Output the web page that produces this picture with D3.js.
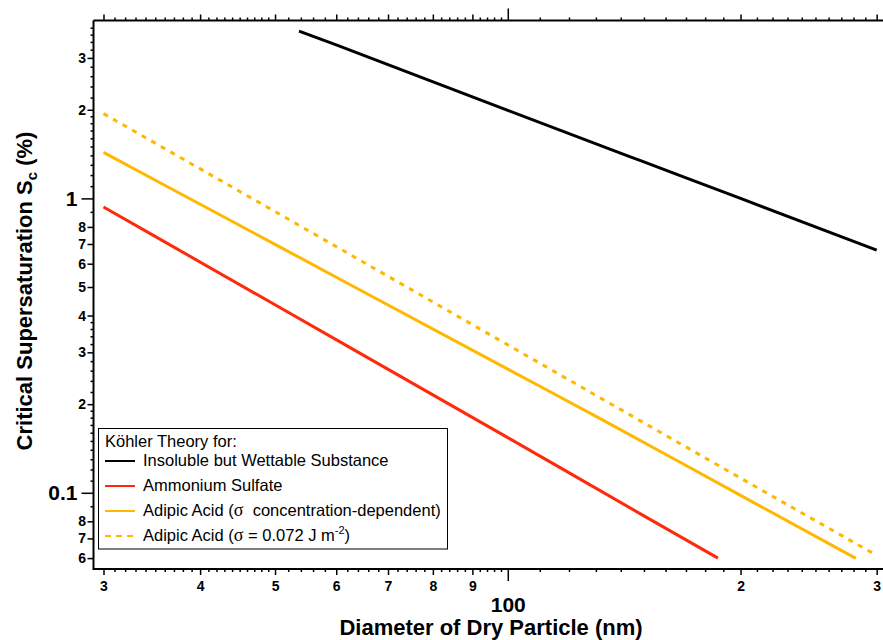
<!DOCTYPE html>
<html>
<head>
<meta charset="utf-8">
<script src="https://cdn.jsdelivr.net/npm/d3@7"></script>
<style>
  html, body { margin: 0; padding: 0; background: #fff; }
  svg { display: block; font-family: "Liberation Sans", Arial, sans-serif; }
</style>
</head>
<body>
<svg id="chart" width="883" height="640"></svg>
<script>
// ---------- data ----------
const diamInsoluble = [53.7, 60, 100, 150, 200, 300];
const scInsoluble   = [3.70, 3.32, 1.99, 1.33, 1.00, 0.667];

const diamAmmSulf = [30, 50, 100, 150, 187];
const scAmmSulf   = [0.935, 0.435, 0.154, 0.0835, 0.060];

const diamAdipicConc = [30, 50, 100, 131.5, 200, 282];
const scAdipicConc   = [1.433, 0.698, 0.263, 0.179, 0.098, 0.0599];

const diamAdipicConst = [30, 50, 100, 200, 300];
const scAdipicConst   = [1.94, 0.902, 0.318, 0.1122, 0.0613];

const seriesNames = [
  "Insoluble but Wettable Substance",
  "Ammonium Sulfate",
  "Adipic Acid (\u03c3  concentration-dependent)",
  "Adipic Acid (\u03c3 = 0.072 J m-2)"
];
const seriesColors = ["#000000", "#ff2a0c", "#ffb800", "#ffb800"];

// axis ticks
const xLabeledTicks = [30, 40, 50, 60, 70, 80, 90, 200, 300];
const xLabeledText  = ["3", "4", "5", "6", "7", "8", "9", "2", "3"];
const xMajorTicks   = [100];
const xMajorText    = ["100"];
const xMinorTicks   = [31,32,33,34,35,36,37,38,39,41,42,43,44,45,46,47,48,49,
                       52,54,56,58,62,64,66,68,72,74,76,78,82,84,86,88,92,94,96,98,
                       110,120,130,140,150,160,170,180,190,210,220,230,240,250,260,270,280,290];

const yLabeledTicks = [3, 2, 0.8, 0.7, 0.6, 0.5, 0.4, 0.3, 0.2, 0.08, 0.07, 0.06];
const yLabeledText  = ["3", "2", "8", "7", "6", "5", "4", "3", "2", "8", "7", "6"];
const yMajorTicks   = [1, 0.1];
const yMajorText    = ["1", "0.1"];
const yMinorTicks   = [3.2, 3.4, 3.6, 3.8, 2.2, 2.4, 2.6, 2.8,
                       1.1, 1.2, 1.3, 1.4, 1.5, 1.6, 1.7, 1.8, 1.9, 0.9,
                       0.32, 0.34, 0.36, 0.38, 0.22, 0.24, 0.26, 0.28,
                       0.11, 0.12, 0.13, 0.14, 0.15, 0.16, 0.17, 0.18, 0.19, 0.09];

// ---------- layout ----------
const plotLeft = 93.5, plotRight = 883, plotTop = 20.5, plotBottom = 569;
const svg = d3.select("#chart");

const x = d3.scaleLog().domain([29.12, 305.7]).range([plotLeft, plotRight]);
const y = d3.scaleLog().domain([0.0551, 4.02]).range([plotBottom, plotTop]);

const toPts = (ds, ss) => ds.map((d, i) => [d, ss[i]]);
const series = [
  toPts(diamInsoluble, scInsoluble),
  toPts(diamAmmSulf, scAmmSulf),
  toPts(diamAdipicConc, scAdipicConc),
  toPts(diamAdipicConst, scAdipicConst)
];
const dashes = [null, null, null, "5,6"];

const line = d3.line().x(p => x(p[0])).y(p => y(p[1])).curve(d3.curveMonotoneX);

// ---------- data lines ----------
const gLines = svg.append("g");
series.forEach((s, i) => {
  gLines.append("path")
    .attr("d", line(s))
    .attr("fill", "none")
    .attr("stroke", seriesColors[i])
    .attr("stroke-width", 3)
    .attr("stroke-dasharray", dashes[i]);
});

// ---------- axes ----------
function tickGroup(axisFn, scale, vals, size, fmt, transform) {
  const ax = axisFn(scale).tickValues(vals).tickSizeInner(size).tickSizeOuter(0)
    .tickFormat(fmt ? ((d, i) => fmt[i]) : "");
  const g = svg.append("g").attr("transform", transform).call(ax);
  g.select(".domain").remove();
  g.selectAll(".tick line").attr("stroke", "#000").attr("stroke-width", 1.5);
  return g;
}

// bottom
tickGroup(d3.axisBottom, x, xMinorTicks, 3, null, `translate(0,${plotBottom})`);
const bl = tickGroup(d3.axisBottom, x, xLabeledTicks, 6, xLabeledText, `translate(0,${plotBottom})`);
bl.selectAll(".tick text").attr("font-size", 14).attr("font-weight", "bold")
  .attr("font-family", "Liberation Sans, Arial, sans-serif").attr("fill", "#000").attr("dy", "0.71em").attr("y", 12);
const bm = tickGroup(d3.axisBottom, x, xMajorTicks, 12, xMajorText, `translate(0,${plotBottom})`);
bm.selectAll(".tick text").attr("font-size", 21).attr("font-weight", "bold")
  .attr("font-family", "Liberation Sans, Arial, sans-serif").attr("fill", "#000").attr("dy", "0.71em").attr("y", 28);

// top (ticks only)
tickGroup(d3.axisTop, x, xMinorTicks, 3, null, `translate(0,${plotTop})`);
tickGroup(d3.axisTop, x, xLabeledTicks, 6, null, `translate(0,${plotTop})`);
tickGroup(d3.axisTop, x, xMajorTicks, 12, null, `translate(0,${plotTop})`);

// left
tickGroup(d3.axisLeft, y, yMinorTicks, 3, null, `translate(${plotLeft},0)`);
const ll = tickGroup(d3.axisLeft, y, yLabeledTicks, 6, yLabeledText, `translate(${plotLeft},0)`);
ll.selectAll(".tick text").attr("font-size", 14).attr("font-weight", "bold")
  .attr("font-family", "Liberation Sans, Arial, sans-serif").attr("fill", "#000").attr("x", -7.5);
const lm = tickGroup(d3.axisLeft, y, yMajorTicks, 12, yMajorText, `translate(${plotLeft},0)`);
lm.selectAll(".tick text").attr("font-size", 21).attr("font-weight", "bold")
  .attr("font-family", "Liberation Sans, Arial, sans-serif").attr("fill", "#000").attr("x", -16);

// axis lines
svg.append("path")
  .attr("d", `M${plotLeft},${plotTop}H${plotRight}M${plotLeft},${plotTop}V${plotBottom}H${plotRight}`)
  .attr("fill", "none").attr("stroke", "#000").attr("stroke-width", 2);

// axis titles
svg.append("text")
  .attr("x", 491).attr("y", 635)
  .attr("text-anchor", "middle").attr("font-size", 22).attr("font-weight", "bold")
  .text("Diameter of Dry Particle (nm)");

const yt = svg.append("text")
  .attr("transform", "translate(32,291) rotate(-90)")
  .attr("text-anchor", "middle").attr("font-size", 22).attr("font-weight", "bold");
yt.append("tspan").text("Critical Supersaturation S");
yt.append("tspan").attr("font-size", 15).attr("dy", 5).text("c");
yt.append("tspan").attr("dy", -5).text(" (%)");

// ---------- legend ----------
const lg = svg.append("g");
lg.append("rect").attr("x", 98.5).attr("y", 428.5).attr("width", 349).attr("height", 120.5)
  .attr("fill", "#fff").attr("stroke", "#000").attr("stroke-width", 1);
lg.append("text").attr("x", 105).attr("y", 447).attr("font-size", 16.5).text("Köhler Theory for:");
const rowY = [466, 491, 516, 541];
seriesNames.forEach((name, i) => {
  lg.append("line").attr("x1", 105).attr("x2", 135).attr("y1", rowY[i] - 5).attr("y2", rowY[i] - 5)
    .attr("stroke", seriesColors[i]).attr("stroke-width", 2).attr("stroke-dasharray", dashes[i] ? "6,5" : null);
  const t = lg.append("text").attr("x", 143).attr("y", rowY[i]).attr("font-size", 16.5)
    .attr("xml:space", "preserve");
  if (i < 2) {
    t.text(name);
  } else if (i === 2) {
    t.append("tspan").text("Adipic Acid (");
    t.append("tspan").attr("font-family", "Liberation Serif, Times New Roman, serif").attr("font-size", 18).text("\u03c3");
    t.append("tspan").text("\u00a0 concentration-dependent)");
  } else {
    t.append("tspan").text("Adipic Acid (");
    t.append("tspan").attr("font-family", "Liberation Serif, Times New Roman, serif").attr("font-size", 18).text("\u03c3");
    t.append("tspan").text(" = 0.072 J m");
    t.append("tspan").attr("font-size", 11).attr("dy", -7).text("-2");
    t.append("tspan").attr("dy", 7).text(")");
  }
});
</script>
</body>
</html>
